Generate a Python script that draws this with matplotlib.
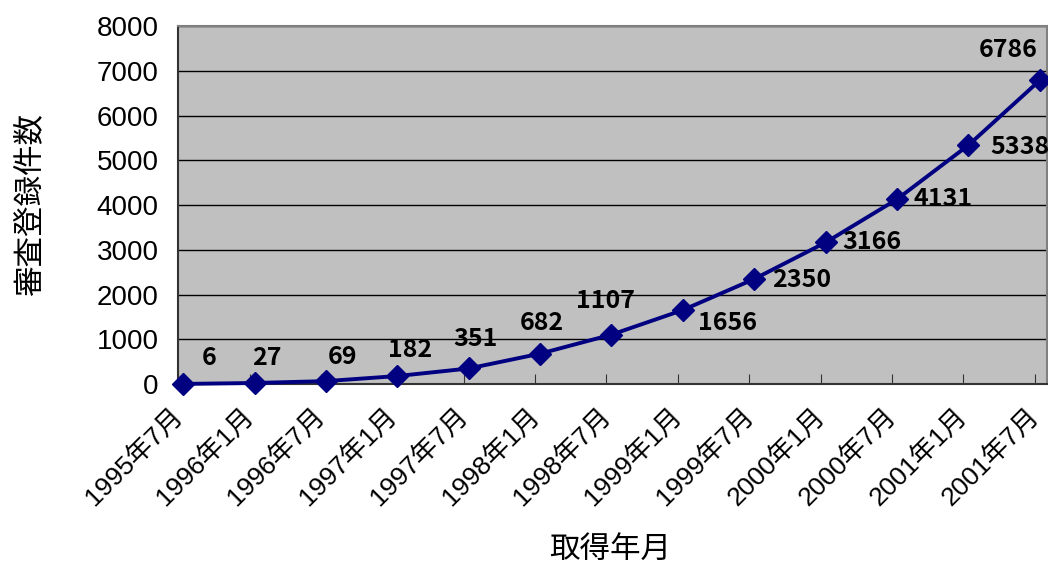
import matplotlib.pyplot as plt

# 審査登録件数の推移データ
periods = ['1995年7月', '1996年1月', '1996年7月', '1997年1月', '1997年7月',
           '1998年1月', '1998年7月', '1999年1月', '1999年7月', '2000年1月',
           '2000年7月', '2001年1月', '2001年7月']
counts = [6, 27, 69, 182, 351, 682, 1107, 1656, 2350, 3166, 4131, 5338, 6786]

# ラベルのずらし量（ポイント）
label_offsets = [(19, 19), (9, 18), (12, 17), (9, 19), (5, 21), (1, 22), (-4, 24),
                 (32, -9), (34, -1), (33, 0), (33, 0), (37, -1), (-23, 22)]

jp = ['Liberation Sans', 'Noto Sans CJK JP']
plt.rcParams['font.family'] = jp

fig = plt.figure(figsize=(10.48, 5.65), dpi=100)
ax = fig.add_axes([0.170, 0.320, 0.829, 0.634])
ax.set_facecolor('#C0C0C0')

x = list(range(len(periods)))
ax.plot(x, counts, color='#000080', lw=2.8, marker='D', markersize=11, zorder=3,
        clip_on=False)

for i, v in enumerate(counts):
    ax.annotate(str(v), (i, v), xytext=label_offsets[i], textcoords='offset points',
                ha='center', va='center', fontsize=18, fontweight='bold',
                family=['Noto Sans CJK JP'], zorder=4)

ax.set_xlim(-0.07, 12.1)
ax.set_ylim(0, 8000)
ax.set_yticks(range(0, 8001, 1000))
ax.yaxis.grid(True, color='black', lw=1)
ax.set_axisbelow(True)

ax.set_xticks([i - 0.07 for i in x])
ax.set_xticklabels(periods, rotation=45, ha='right', va='center',
                   rotation_mode='anchor', fontsize=19)
ax.tick_params(axis='x', direction='in', length=7, pad=20, color='#333333')
ax.tick_params(axis='y', direction='in', length=0, pad=14, labelsize=20)

for s in ax.spines.values():
    s.set_color('#808080')
    s.set_linewidth(1.5)
ax.spines['left'].set_color('#333333')
ax.spines['bottom'].set_color('#333333')

fig.text(610 / 1048, 1 - 550 / 565, '取得年月', ha='center', va='center', fontsize=22)
fig.text(30 / 1048, 1 - 205 / 565, '審査登録件数', ha='center', va='center',
         rotation=90, fontsize=22)

fig.savefig('out.png', dpi=100)
